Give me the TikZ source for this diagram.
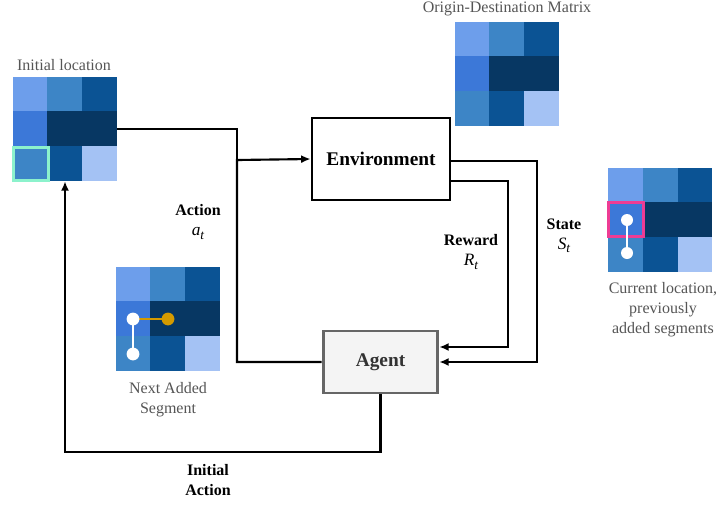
\documentclass[tikz,border=0pt]{standalone}
\usepackage{fontspec}
\setmainfont{Liberation Serif}
\usepackage{tikz}
\usetikzlibrary{arrows.meta,calc}
\definecolor{odA}{HTML}{6D9EEB}
\definecolor{odB}{HTML}{3D85C6}
\definecolor{odC}{HTML}{0B5394}
\definecolor{odD}{HTML}{3C78D8}
\definecolor{odE}{HTML}{073763}
\definecolor{odF}{HTML}{A4C2F4}
\definecolor{mint}{HTML}{8CF2CC}
\definecolor{hotpink}{HTML}{EE3C94}
\definecolor{gold}{HTML}{D49A00}
\definecolor{labgray}{HTML}{555555}
\definecolor{agentgray}{HTML}{666666}
\definecolor{agentfill}{HTML}{F4F4F4}
\definecolor{agenttext}{HTML}{333333}
\newcommand{\symt}[1]{{\mdseries\itshape\fontsize{13}{15}\selectfont #1\raisebox{-2.5pt}{\fontsize{10}{10}\selectfont t}}}

\begin{document}
\begin{tikzpicture}[x=0.75pt,y=-0.75pt,
	line/.style={line width=1.6pt},
	arr/.style={line width=1.6pt,-{Latex[length=7pt,width=6pt]}},
	gridbox/.style={minimum size=78pt,inner sep=0pt},
	lbl/.style={text=labgray,font=\fontsize{12}{15}\selectfont,align=center},
	blbl/.style={font=\bfseries\fontsize{12}{15}\selectfont,align=center}]
	\useasboundingbox (0,0) rectangle (716,504);
	% the four matrices
	\node[gridbox] (init) at (65,129) {};
	\node[gridbox] (od) at (507,74) {};
	\node[gridbox] (cur) at (660.5,220) {};
	\node[gridbox] (next) at (168,319) {};
	\foreach \g in {init,od,cur,next}
	\foreach \c/\r/\col in {0/0/odA,1/0/odB,2/0/odC,0/1/odD,1/1/odE,2/1/odE,0/2/odB,1/2/odC,2/2/odF}
	\fill[\col] ($(\g.north west)+(\c*34.67,\r*34.67)$) rectangle +(34.67,34.67);
	\draw[mint,line width=2.2pt] ($(init.north west)+(1,70.8)$) rectangle +(34.5,32.5);
	\draw[hotpink,line width=2.2pt] ($(cur.north west)+(0,35)$) rectangle +(35,33.5);
	\draw[white,line width=1.5pt] (627,220) -- (627,253);
	\fill[white] (627,220) circle[radius=4.5pt];
	\fill[white] (627,253) circle[radius=4.5pt];
	\draw[white,line width=1.5pt] (133,319) -- (133,354);
	\draw[gold,line width=1.5pt] (133,319) -- (168,319);
	\fill[white] (133,319) circle[radius=4.8pt];
	\fill[white] (133,354) circle[radius=4.8pt];
	\fill[gold] (168,319) circle[radius=4.8pt];
	\node[lbl] (initlbl) at (64,65) {Initial location};
	\node[lbl] (odlbl) at (507,9) {Origin-Destination Matrix};
	\node[lbl] (curlbl) at (663,310) {Current location,\\previously\\added segments};
	\node[lbl] (nextlbl) at (168,400) {Next Added\\Segment};
	% environment and agent
	\node[draw,line width=2.2pt,minimum width=103.5pt,minimum height=61.5pt,font=\bfseries\fontsize{14.5}{17}\selectfont] (env) at (381,159) {Environment};
	\node[draw=agentgray,fill=agentfill,line width=2.2pt,minimum width=86pt,minimum height=46.5pt,text=agenttext,font=\bfseries\fontsize{14.5}{17}\selectfont] (agent) at (380.5,362) {Agent};
	\coordinate (jn) at (237,160);
	\coordinate (sx) at (537,260);
	\coordinate (rx) at (508,260);
	\coordinate (ia) at (220,452);
	\draw[line] (init.east) -| (jn);
	\draw[arr] (agent.west) -| (jn) -- (env.west);
	\draw[arr] ($(env.east)+(0,2)$) -| (sx) |- (agent.east);
	\draw[arr] ($(env.east)+(0,22)$) -| (rx) |- ($(agent.east)+(0,-15)$);
	\draw[arr] (agent.south) |- (ia) -| (init.south);
	\node[blbl] (actlbl) at (198,222) {Action\\\symt{a}};
	\node[blbl] (rewlbl) at (471,252) {Reward\\\symt{R}};
	\node[blbl] (statelbl) at (564,236) {State\\\symt{S}};
	\node[blbl] (ialbl) at (208,480) {Initial\\Action};
\end{tikzpicture}
\end{document}
